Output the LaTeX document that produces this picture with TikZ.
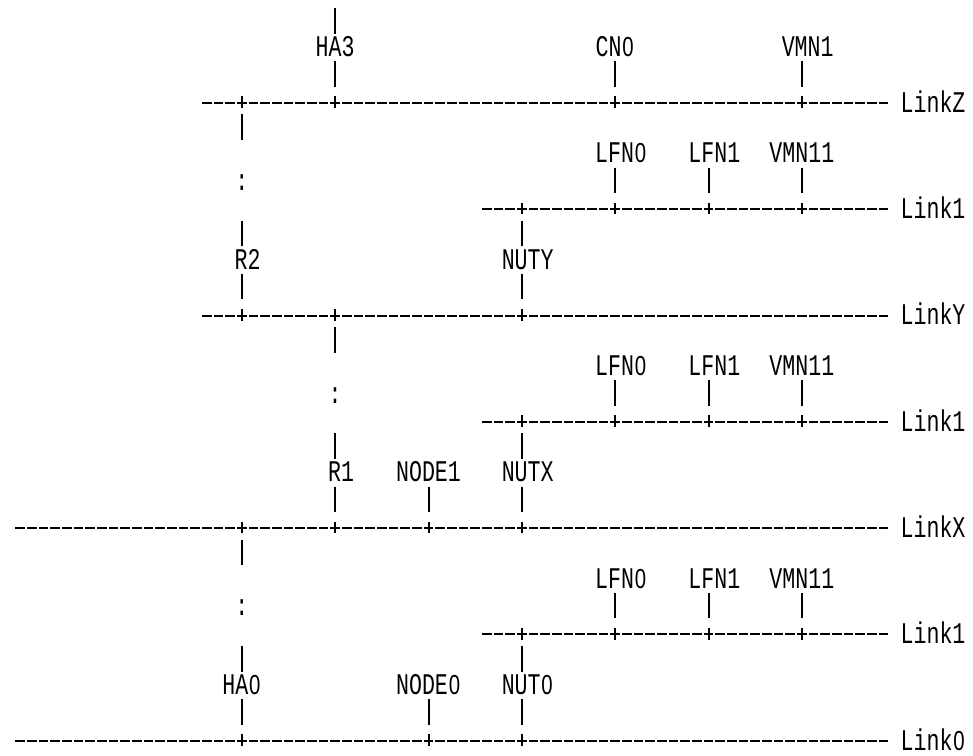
\documentclass[tikz,border=0pt]{standalone}
\usepackage{fontspec}
\newfontfamily\lblfont[FakeStretch=0.72]{Liberation Mono}
\newfontfamily\zerofont[FakeStretch=0.74]{Liberation Sans}
\newcommand\dzero{\makebox[12.96pt]{\zerofont\fontsize{27.5pt}{30pt}\selectfont 0}}
\tikzset{
  bus/.style={line width=2pt, dash pattern=on 9.5pt off 2.167pt, shorten >=12.17pt},
  bar/.style={line width=2pt},
  lbl/.style={font=\lblfont\fontsize{30pt}{32pt}\selectfont, inner sep=0pt},
  tag/.style={lbl, yshift=3pt},
  linkname/.style={lbl, anchor=west, yshift=1.5pt},
}
\begin{document}
\begin{tikzpicture}[x=11.667pt,y=-26.58pt]
      \useasboundingbox (-0.729,-0.87) rectangle (82.67,27.538);
      % main links
      \node[linkname] (linkZ) at (76.45,3) {LinkZ};
      \node[linkname] (linkY) at (76.45,11) {LinkY};
      \node[linkname] (linkX) at (76.45,19) {LinkX};
      \node[linkname] (link0) at (76.45,27) {Link\dzero};
      \coordinate (zs) at (16.593,3);
      \coordinate (ys) at (16.593,11);
      \coordinate (xs) at (0.593,19);
      \coordinate (s0) at (0.593,27);
      \draw[bus] (zs) -- (zs -| linkZ.west);
      \draw[bus] (ys) -- (ys -| linkY.west);
      \draw[bus] (xs) -- (xs -| linkX.west);
      \draw[bus] (s0) -- (s0 -| link0.west);
      % devices
      \node[tag] (ha3) at (28,1) {HA3};
      \node[tag] (cn0) at (52,1) {CN\dzero};
      \node[tag] (vmn1) at (68.5,1) {VMN1};
      \node[tag] (r2) at (20.5,9) {R2};
      \node[tag] (nuty) at (44.5,9) {NUTY};
      \node[tag] (r1) at (28.5,17) {R1};
      \node[tag] (node1) at (36,17) {NODE1};
      \node[tag] (nutx) at (44.5,17) {NUTX};
      \node[tag] (ha0) at (20,25) {HA\dzero};
      \node[tag] (node0) at (36,25) {NODE\dzero};
      \node[tag] (nut0) at (44.5,25) {NUT\dzero};
      \node[lbl] (dotz) at (20,6) {:};
      \node[lbl] (doty) at (28,14) {:};
      \node[lbl] (dotx) at (20,22) {:};
      % Link1 segments
      \foreach \r/\n in {7/a,15/b,23/c}{
        \node[linkname] (link1\n) at (76.45,\r) {Link1};
        \coordinate (s1\n) at (40.593,\r);
        \draw[bus] (s1\n) -- (s1\n -| link1\n.west);
        \node[tag] (lfn0\n) at (52.5,\r-2) {LFN\dzero};
        \node[tag] (lfn1\n) at (60.5,\r-2) {LFN1};
        \node[tag] (vmn11\n) at (68,\r-2) {VMN11};
        \foreach \c in {44,52,60,68} \draw[bar] (\c,\r-.24) -- (\c,\r+.19);
        \foreach \c in {52,60,68} \draw[bar] (\c,\r-1.564) -- (\c,\r-.605);
      }
      % crossings and stubs
      \foreach \c/\r in {20/3,28/3,52/3,68/3,20/11,28/11,44/11,20/19,28/19,36/19,44/19,20/27,36/27,44/27}
        \draw[bar] (\c,\r-.24) -- (\c,\r+.19);
      \foreach \c/\r in {28/0,28/2,52/2,68/2,20/4,20/8,44/8,20/10,44/10,28/12,28/16,44/16,28/18,36/18,44/18,20/20,20/24,44/24,20/26,36/26,44/26}
        \draw[bar] (\c,\r-.564) -- (\c,\r+.395);
\end{tikzpicture}
\end{document}
